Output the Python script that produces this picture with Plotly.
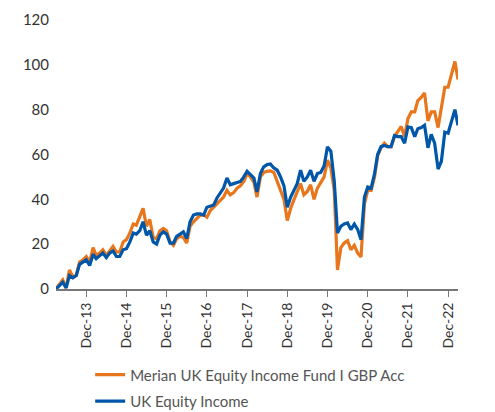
import pandas as pd
import plotly.graph_objects as go

dates = pd.date_range("2013-03-01", "2023-03-01", freq="MS")

merian = [0, 2, 4, 0.5, 8.5, 5.5, 6, 12, 13, 14.5,
          12, 18.5, 15, 16, 17.5, 15, 17, 19, 16.5, 16.5,
          21, 22, 25, 29, 28.5, 32, 36, 28, 31, 23,
          22.5, 26, 27, 26, 21, 19.5, 22.5, 23.5, 23, 20.5,
          28, 30, 31.5, 33, 33, 32, 35, 36.5, 38, 39.5,
          41, 44, 42, 43, 45, 46, 48, 51.5, 50, 47.5,
          41, 50, 52, 52.5, 52.7, 52, 48, 45, 40, 30.5,
          36, 40, 43, 47, 42, 43.5, 46.5, 40, 45, 47.5,
          50, 57.5, 54, 44, 8.5, 18.5, 20.5, 21.5, 17.5, 19.5,
          16, 14.3, 38, 44, 44, 50, 59.5, 63, 65, 63.5,
          63.5, 68, 70, 72.5, 68, 76, 79, 79, 84, 85.5,
          87.5, 75, 79, 79, 72, 80, 90, 90, 96, 101.5,
          93.5]

sector = [0, 1.5, 3, 0.5, 6, 5, 6, 11, 12, 13,
          10.5, 15.5, 13.5, 15, 16, 14, 16, 17, 14.5, 14.5,
          17.5, 18, 21, 25, 24.5, 26, 30, 24, 26, 21,
          20, 24, 25.5, 24.5, 20.5, 20.5, 23.5, 24.5, 25.5, 22.5,
          30, 33, 33.5, 33.5, 33, 36.5, 37, 37.5, 40.5, 43,
          45, 49.5, 46.5, 47, 47.5, 48, 50, 52.5, 51, 49.5,
          43.3, 51.5, 54.5, 55.5, 55.8, 54, 53, 50, 46, 36.5,
          41, 44, 47, 53, 48, 50, 53, 48, 51.5, 52,
          55, 63.4, 61.5, 48, 25, 28, 29, 29.5, 26.5, 29,
          26.5, 22, 41, 45.5, 45, 51.5, 60, 63.5, 64, 63.5,
          63.5, 68.5, 68, 68, 65, 72.3, 72, 68, 71.5, 72,
          73, 63, 69, 65, 53.5, 57, 70, 69.5, 74.5, 80,
          73]

tick_vals = ["2013-12-01", "2014-12-01", "2015-12-01", "2016-12-01", "2017-12-01",
             "2018-12-01", "2019-12-01", "2020-12-01", "2021-12-01", "2022-12-01"]
tick_text = ["Dec-13", "Dec-14", "Dec-15", "Dec-16", "Dec-17",
             "Dec-18", "Dec-19", "Dec-20", "Dec-21", "Dec-22"]
y_ticks = [0, 20, 40, 60, 80, 100, 120]

ORANGE = "#E8761C"
BLUE = "#0056A8"

fig = go.Figure()
fig.add_trace(go.Scatter(x=dates, y=merian, mode="lines",
                         name="Merian UK Equity Income Fund I GBP Acc",
                         line=dict(color=ORANGE, width=3.2), legendgroup="a"))
fig.add_trace(go.Scatter(x=dates, y=sector, mode="lines",
                         name="UK Equity Income",
                         line=dict(color=BLUE, width=3.2), legendgroup="b"))

fig.update_layout(
    width=487, height=404,
    margin=dict(l=48, r=37, t=12, b=123, autoexpand=False),
    plot_bgcolor="white", paper_bgcolor="white",
    font=dict(family="Lato, sans-serif", size=14, color="#333333"),
    showlegend=True,
    legend=dict(orientation="v", x=0.085, xanchor="left", y=-0.258, yanchor="top",
                tracegroupgap=4, font=dict(size=15, color="#555555"),
                bgcolor="rgba(0,0,0,0)"),
    xaxis=dict(
        type="date",
        range=["2013-03-01", "2023-03-01"],
        tickmode="array", tickvals=tick_vals, ticktext=tick_text,
        tickangle=-90, ticks="outside", ticklen=6, tickcolor="#777777",
        showline=True, linecolor="#777777", linewidth=2,
        showgrid=False, zeroline=False,
        tickfont=dict(size=14, color="#333333"),
    ),
    yaxis=dict(
        range=[0, 120], tickvals=y_ticks,
        showgrid=False, zeroline=False, showline=False,
        ticks="", ticklabelstandoff=6,
        tickfont=dict(size=15, color="#333333"),
    ),
)

fig.write_html("out.html")
